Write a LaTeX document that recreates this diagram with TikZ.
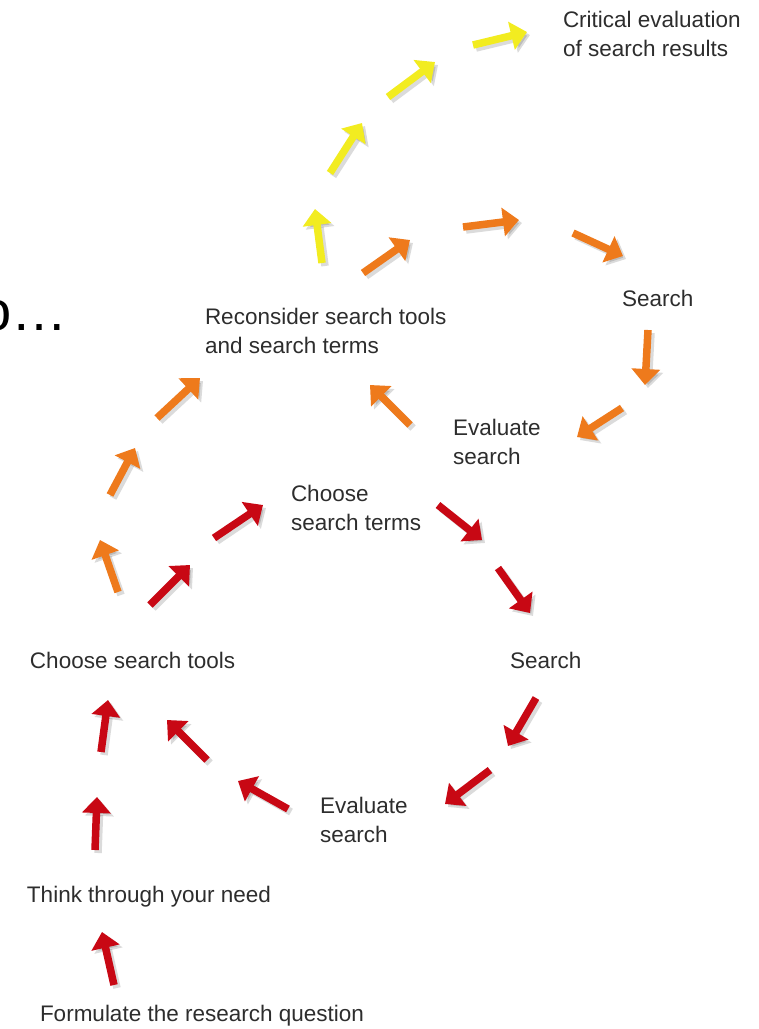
\documentclass[tikz,border=0pt]{standalone}
\usepackage{fontspec}
\setmainfont{Liberation Sans}
\usetikzlibrary{arrows.meta}
\definecolor{arrred}{RGB}{200,8,20}
\definecolor{arrorange}{RGB}{238,122,28}
\definecolor{arryellow}{RGB}{242,236,32}
\definecolor{txtgray}{RGB}{45,45,45}
\newcommand\myarrow[3]{%
  \draw[shadowarr] ([shift={(3,3)}]#2) -- ([shift={(3,3)}]#3);
  \draw[#1] (#2) -- (#3);}
\begin{document}
\begin{tikzpicture}[x=1pt,y=-1pt,
  lbl/.style={anchor=north west,inner sep=0pt,outer sep=0pt,align=left,
    text=txtgray,font=\fontsize{22.5}{29}\selectfont},
  arrbase/.style={line width=7.5pt,-{Triangle[width=28pt,length=16pt]}},
  redarr/.style={arrbase,color=arrred},
  orarr/.style={arrbase,color=arrorange},
  yelarr/.style={arrbase,color=arryellow},
  shadowarr/.style={arrbase,color=black,opacity=0.14}]
\useasboundingbox (0,0) rectangle (759,1029);
\begin{scope}
\clip (0,0) rectangle (759,1029);
% labels
\node[lbl] (crit) at (563,11) {Critical evaluation\\of search results};
\node[lbl] (searchb) at (622,290) {Search};
\node[lbl] (recon) at (205,308) {Reconsider search tools\\and search terms};
\node[lbl] (evalb) at (453,419) {Evaluate\\search};
\node[lbl] (chooseb) at (291,485) {Choose\\search terms};
\node[lbl] (choosea) at (30,652) {Choose search tools};
\node[lbl] (searcha) at (510,652) {Search};
\node[lbl] (evala) at (320,797) {Evaluate\\search};
\node[lbl] (think) at (27,886) {Think through your need};
\node[lbl] (form) at (40,1005) {Formulate the research question};
\node[anchor=base west,inner sep=0pt,font=\fontsize{56}{60}\selectfont] (cut) at (-20,330) {o…};
% arrow end points
\coordinate (r1t) at (114,985); \coordinate (r1h) at (102,932);
\coordinate (r2t) at (95,850);  \coordinate (r2h) at (97,797);
\coordinate (r3t) at (101,752); \coordinate (r3h) at (108,700);
\coordinate (r4t) at (207,760); \coordinate (r4h) at (167,720);
\coordinate (r5t) at (288,809); \coordinate (r5h) at (238,781);
\coordinate (r6t) at (490,770); \coordinate (r6h) at (445,804);
\coordinate (r7t) at (536,698); \coordinate (r7h) at (508,746);
\coordinate (r8t) at (498,568); \coordinate (r8h) at (530,613);
\coordinate (r9t) at (438,505); \coordinate (r9h) at (482,540);
\coordinate (r10t) at (214,538); \coordinate (r10h) at (263,505);
\coordinate (r11t) at (150,605); \coordinate (r11h) at (190,565);
\coordinate (o1t) at (118,592); \coordinate (o1h) at (100,540);
\coordinate (o2t) at (110,495); \coordinate (o2h) at (135,448);
\coordinate (o3t) at (157,418); \coordinate (o3h) at (200,378);
\coordinate (o4t) at (410,425); \coordinate (o4h) at (370,385);
\coordinate (o5t) at (622,408); \coordinate (o5h) at (577,437);
\coordinate (o6t) at (648,330); \coordinate (o6h) at (645,385);
\coordinate (o7t) at (573,233); \coordinate (o7h) at (623,256);
\coordinate (o8t) at (463,227); \coordinate (o8h) at (519,220);
\coordinate (o9t) at (363,273); \coordinate (o9h) at (410,240);
\coordinate (y1t) at (322,263); \coordinate (y1h) at (315,209);
\coordinate (y2t) at (330,173); \coordinate (y2h) at (362,123);
\coordinate (y3t) at (388,97);  \coordinate (y3h) at (435,62);
\coordinate (y4t) at (473,45);  \coordinate (y4h) at (527,32);
% red arrows
\myarrow{redarr}{r1t}{r1h}
\myarrow{redarr}{r2t}{r2h}
\myarrow{redarr}{r3t}{r3h}
\myarrow{redarr}{r4t}{r4h}
\myarrow{redarr}{r5t}{r5h}
\myarrow{redarr}{r6t}{r6h}
\myarrow{redarr}{r7t}{r7h}
\myarrow{redarr}{r8t}{r8h}
\myarrow{redarr}{r9t}{r9h}
\myarrow{redarr}{r10t}{r10h}
\myarrow{redarr}{r11t}{r11h}
% orange arrows
\myarrow{orarr}{o1t}{o1h}
\myarrow{orarr}{o2t}{o2h}
\myarrow{orarr}{o3t}{o3h}
\myarrow{orarr}{o4t}{o4h}
\myarrow{orarr}{o5t}{o5h}
\myarrow{orarr}{o6t}{o6h}
\myarrow{orarr}{o7t}{o7h}
\myarrow{orarr}{o8t}{o8h}
\myarrow{orarr}{o9t}{o9h}
% yellow arrows
\myarrow{yelarr}{y1t}{y1h}
\myarrow{yelarr}{y2t}{y2h}
\myarrow{yelarr}{y3t}{y3h}
\myarrow{yelarr}{y4t}{y4h}
\end{scope}
\end{tikzpicture}
\end{document}
